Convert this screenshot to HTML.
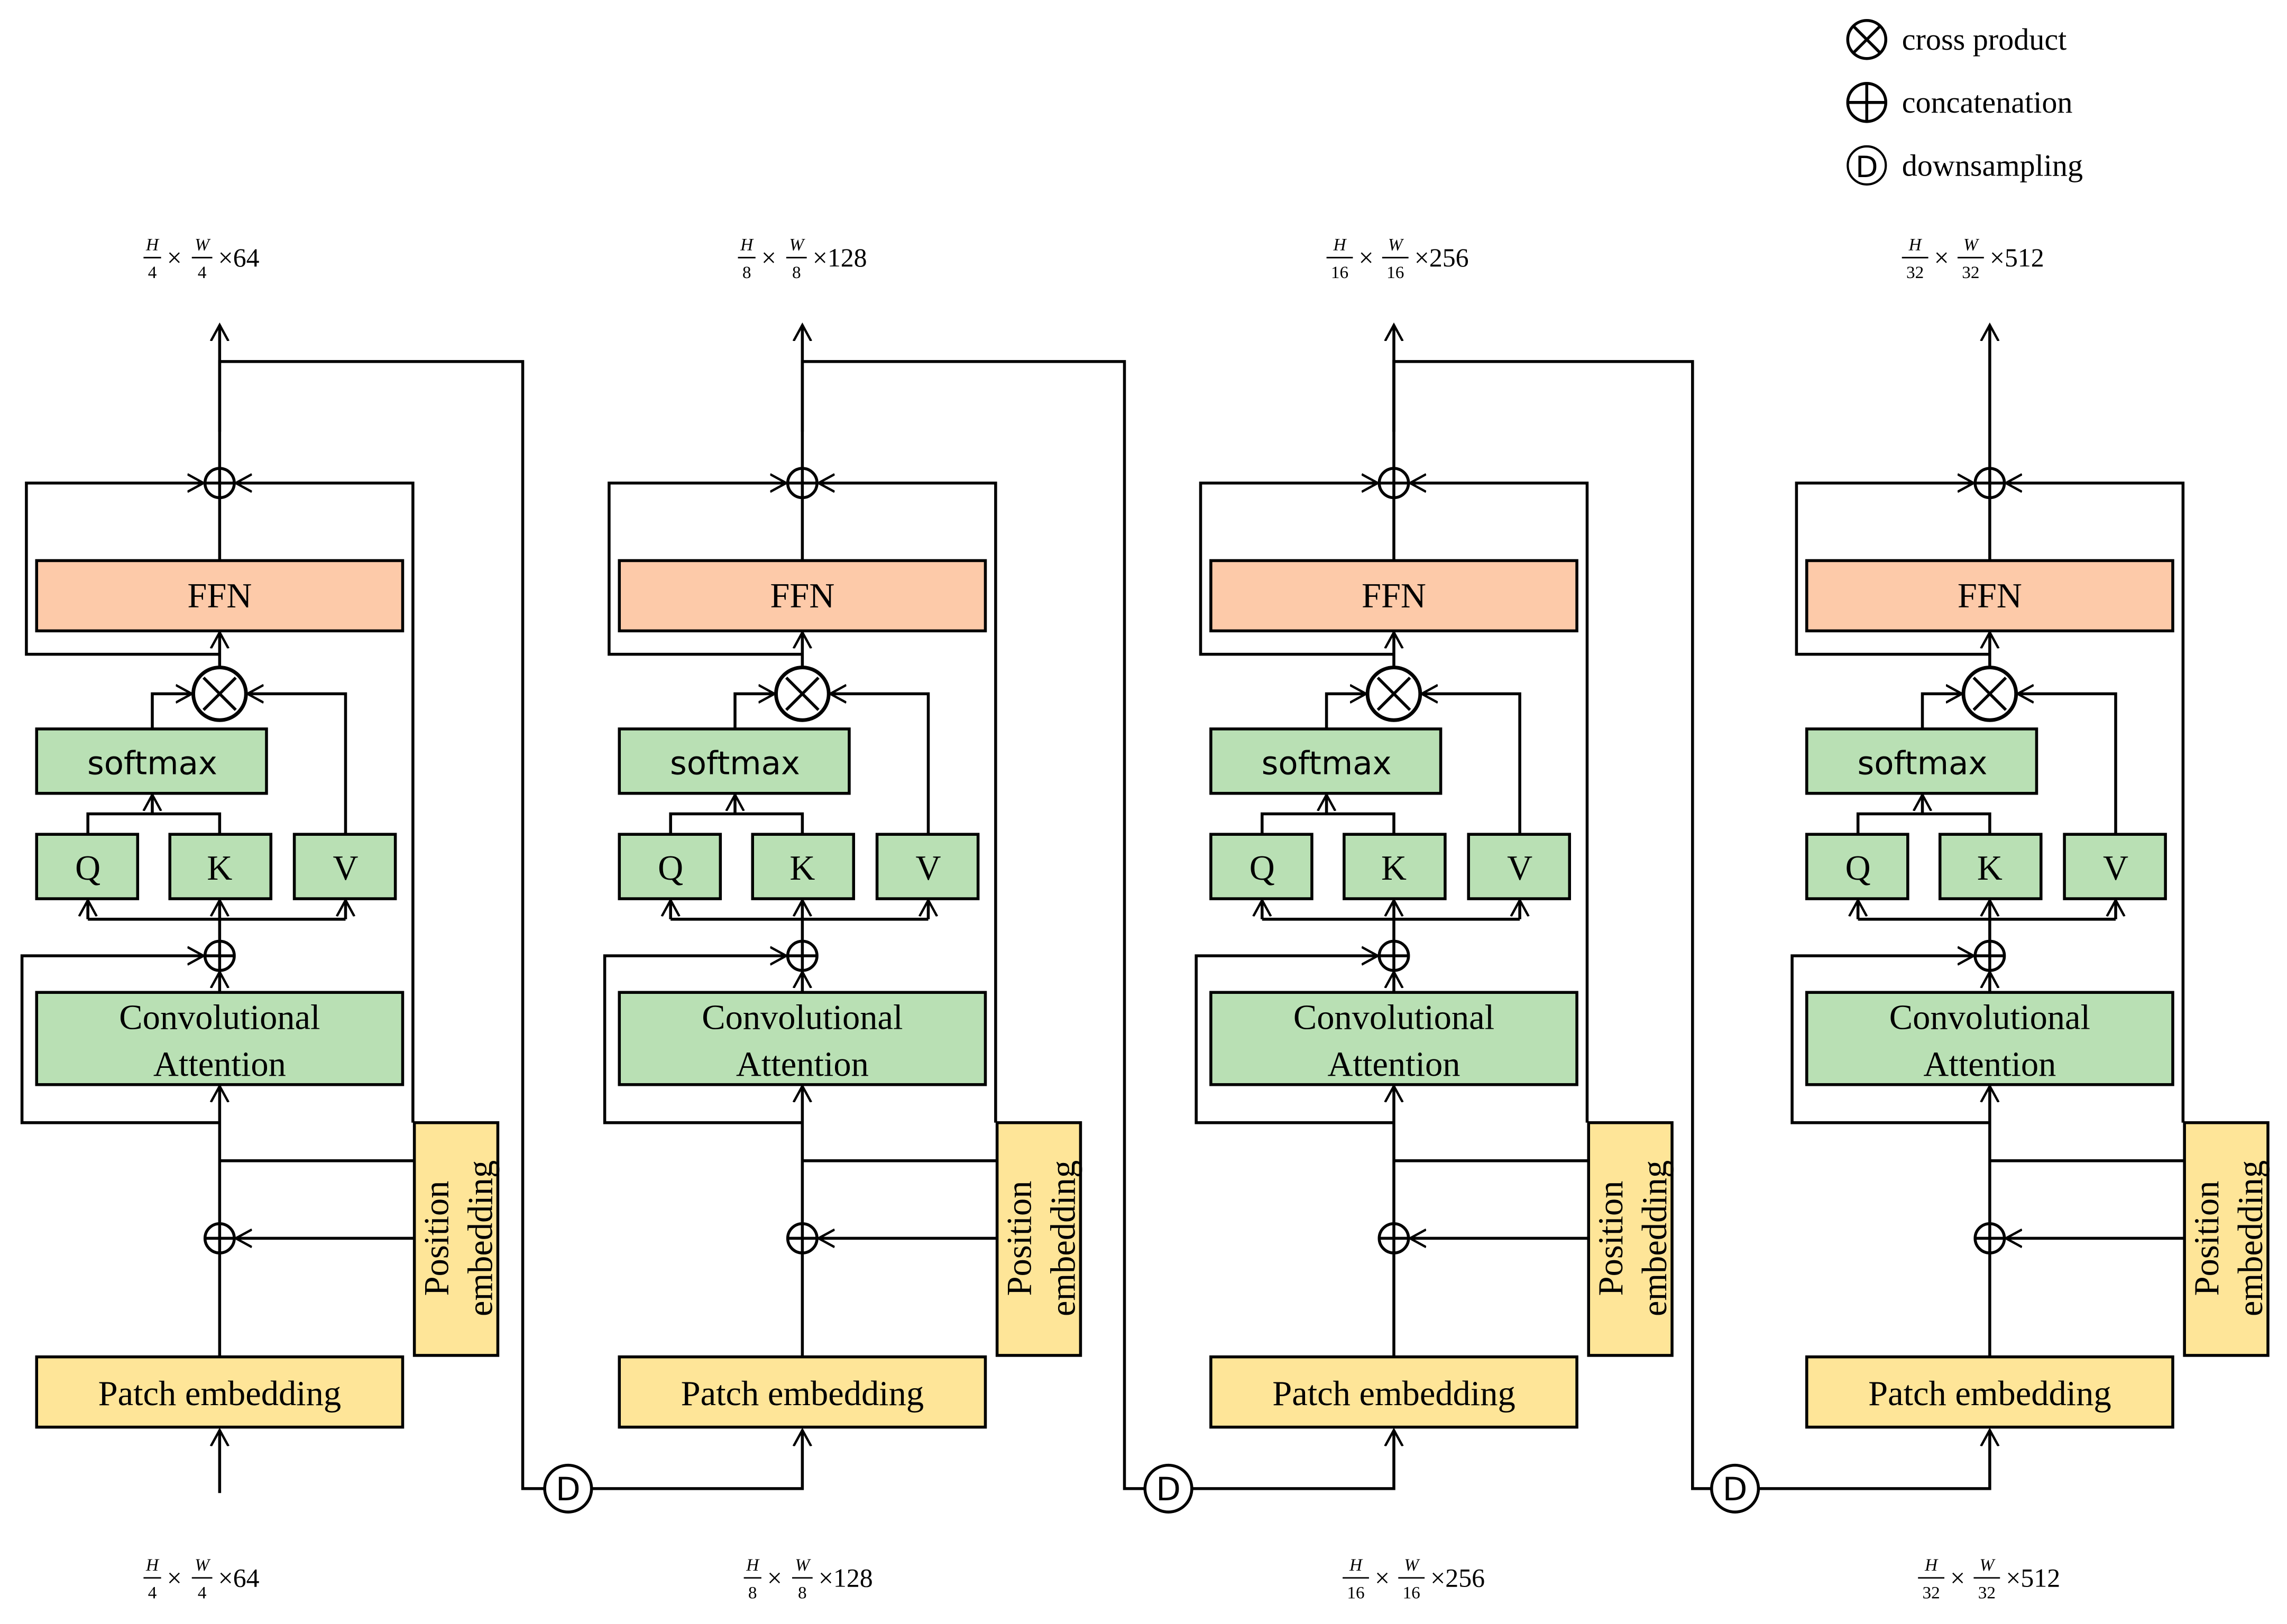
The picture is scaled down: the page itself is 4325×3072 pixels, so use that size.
<!DOCTYPE html>
<html><head><meta charset="utf-8"><style>html,body{margin:0;padding:0;background:#fff}svg{display:block}</style></head>
<body>
<svg width="4325" height="3072" viewBox="0 0 1562 1109.5" xmlns="http://www.w3.org/2000/svg" font-family="Liberation Serif, serif">
<defs>
<marker id="a" markerUnits="userSpaceOnUse" markerWidth="16" markerHeight="16" refX="11" refY="6" orient="auto" viewBox="0 0 16 12">
<path d="M0,0 L11,6 L0,12" fill="none" stroke="#000" stroke-width="1.6"/>
</marker>
<g id="blk" fill="none" stroke="#000" stroke-width="2">
<rect x="25" y="383" width="250" height="48" fill="#fdcaa9"/>
<rect x="25" y="498" width="157" height="44" fill="#b9e0b4"/>
<rect x="25" y="570" width="69" height="44" fill="#b9e0b4"/>
<rect x="116" y="570" width="69" height="44" fill="#b9e0b4"/>
<rect x="201" y="570" width="69" height="44" fill="#b9e0b4"/>
<rect x="25" y="678" width="250" height="63" fill="#b9e0b4"/>
<rect x="25" y="927" width="250" height="48" fill="#fee598"/>
<rect x="283" y="767" width="57" height="159" fill="#fee598"/>
<line x1="150" y1="320" x2="150" y2="222" marker-end="url(#a)"/>
<circle cx="150" cy="330" r="10" fill="#fff"/><line x1="140" y1="330" x2="160" y2="330"/><line x1="150" y1="320" x2="150" y2="340"/>
<line x1="150" y1="383" x2="150" y2="340"/>
<path d="M150,447 H18 V330 H139" marker-end="url(#a)"/>
<path d="M282,767 V330 H161" marker-end="url(#a)"/>
<circle cx="150" cy="474" r="18" fill="#fff" stroke-width="2.5"/><line x1="139" y1="463" x2="161" y2="485"/><line x1="161" y1="463" x2="139" y2="485"/>
<line x1="150" y1="456" x2="150" y2="432" marker-end="url(#a)"/>
<path d="M104,498 V474 H131" marker-end="url(#a)"/>
<path d="M236,570 V474 H169" marker-end="url(#a)"/>
<path d="M60,570 V556 H150 V570"/>
<line x1="104" y1="556" x2="104" y2="543" marker-end="url(#a)"/>
<line x1="60" y1="628" x2="236" y2="628"/>
<line x1="60" y1="628" x2="60" y2="615" marker-end="url(#a)"/>
<line x1="150" y1="643" x2="150" y2="615" marker-end="url(#a)"/>
<line x1="236" y1="628" x2="236" y2="615" marker-end="url(#a)"/>
<circle cx="150" cy="653" r="10" fill="#fff"/><line x1="140" y1="653" x2="160" y2="653"/><line x1="150" y1="643" x2="150" y2="663"/>
<line x1="150" y1="678" x2="150" y2="664" marker-end="url(#a)"/>
<path d="M150,767 H15 V653 H139" marker-end="url(#a)"/>
<line x1="150" y1="927" x2="150" y2="742" marker-end="url(#a)"/>
<line x1="150" y1="793" x2="283" y2="793"/>
<circle cx="150" cy="846" r="10"/><line x1="140" y1="846" x2="160" y2="846"/>
<line x1="283" y1="846" x2="161" y2="846" marker-end="url(#a)"/>
<g stroke="none" fill="#000" text-anchor="middle">
<text x="150" y="415" font-size="24">FFN</text>
<text x="104" y="529" font-size="22" font-family="DejaVu Sans, sans-serif">softmax</text>
<text x="60" y="601" font-size="24">Q</text>
<text x="150" y="601" font-size="24">K</text>
<text x="236" y="601" font-size="24">V</text>
<text x="150" y="703" font-size="24">Convolutional</text>
<text x="150" y="735" font-size="24">Attention</text>
<text x="150" y="960" font-size="24">Patch embedding</text>
<text transform="translate(306,846) rotate(-90)" font-size="24">Position</text>
<text transform="translate(336,846) rotate(-90)" font-size="24">embedding</text>
</g>
</g>
</defs>

<use href="#blk"/>
<use href="#blk" transform="translate(398,0)"/>
<use href="#blk" transform="translate(802,0)"/>
<use href="#blk" transform="translate(1209,0)"/>

<g fill="none" stroke="#000" stroke-width="2">
<line x1="150" y1="1020" x2="150" y2="977" marker-end="url(#a)"/>
<path d="M150,295 V247 H357 V1017 H372"/>
<path d="M404,1017 H548 V977" marker-end="url(#a)"/>
<circle cx="388" cy="1017" r="16" fill="#fff"/>
<path d="M548,295 V247 H768 V1017 H782"/>
<path d="M814,1017 H952 V977" marker-end="url(#a)"/>
<circle cx="798" cy="1017" r="16" fill="#fff"/>
<path d="M952,295 V247 H1156 V1017 H1169"/>
<path d="M1201,1017 H1359 V977" marker-end="url(#a)"/>
<circle cx="1185" cy="1017" r="16" fill="#fff"/>
</g>
<g font-family="DejaVu Sans, sans-serif" font-size="22" text-anchor="middle">
<text x="388" y="1025">D</text><text x="798" y="1025">D</text><text x="1185" y="1025">D</text>
</g>

<!-- legend -->
<g fill="none" stroke="#000" stroke-width="2">
<circle cx="1275" cy="27" r="13"/><line x1="1266" y1="18" x2="1284" y2="36"/><line x1="1284" y1="18" x2="1266" y2="36"/>
<circle cx="1275" cy="70" r="13"/><line x1="1262" y1="70" x2="1288" y2="70"/><line x1="1275" y1="57" x2="1275" y2="83"/>
<circle cx="1275" cy="113" r="13" stroke-width="1.5"/>
</g>
<text x="1275" y="121" font-family="DejaVu Sans, sans-serif" font-size="20" text-anchor="middle">D</text>
<g font-size="21">
<text x="1299" y="34">cross product</text>
<text x="1299" y="77">concatenation</text>
<text x="1299" y="120">downsampling</text>
</g>

<!-- dimension labels -->
<g font-size="18" id="dims">
<g transform="translate(98,176)"><text x="6" y="-5" font-size="12" font-style="italic" text-anchor="middle">H</text><line x1="0" y1="0" x2="12" y2="0" stroke="#000"/><text x="6" y="14" font-size="12" text-anchor="middle">4</text><text x="16" y="6">×</text><text x="40" y="-5" font-size="12" font-style="italic" text-anchor="middle">W</text><line x1="33" y1="0" x2="47" y2="0" stroke="#000"/><text x="40" y="14" font-size="12" text-anchor="middle">4</text><text x="51" y="6">×64</text></g>
<g transform="translate(504,176)"><text x="6" y="-5" font-size="12" font-style="italic" text-anchor="middle">H</text><line x1="0" y1="0" x2="12" y2="0" stroke="#000"/><text x="6" y="14" font-size="12" text-anchor="middle">8</text><text x="16" y="6">×</text><text x="40" y="-5" font-size="12" font-style="italic" text-anchor="middle">W</text><line x1="33" y1="0" x2="47" y2="0" stroke="#000"/><text x="40" y="14" font-size="12" text-anchor="middle">8</text><text x="51" y="6">×128</text></g>
<g transform="translate(906,176)"><text x="9" y="-5" font-size="12" font-style="italic" text-anchor="middle">H</text><line x1="0" y1="0" x2="18" y2="0" stroke="#000"/><text x="9" y="14" font-size="12" text-anchor="middle">16</text><text x="22" y="6">×</text><text x="47" y="-5" font-size="12" font-style="italic" text-anchor="middle">W</text><line x1="38" y1="0" x2="56" y2="0" stroke="#000"/><text x="47" y="14" font-size="12" text-anchor="middle">16</text><text x="60" y="6">×256</text></g>
<g transform="translate(1299,176)"><text x="9" y="-5" font-size="12" font-style="italic" text-anchor="middle">H</text><line x1="0" y1="0" x2="18" y2="0" stroke="#000"/><text x="9" y="14" font-size="12" text-anchor="middle">32</text><text x="22" y="6">×</text><text x="47" y="-5" font-size="12" font-style="italic" text-anchor="middle">W</text><line x1="38" y1="0" x2="56" y2="0" stroke="#000"/><text x="47" y="14" font-size="12" text-anchor="middle">32</text><text x="60" y="6">×512</text></g>

<g transform="translate(98,1078)"><text x="6" y="-5" font-size="12" font-style="italic" text-anchor="middle">H</text><line x1="0" y1="0" x2="12" y2="0" stroke="#000"/><text x="6" y="14" font-size="12" text-anchor="middle">4</text><text x="16" y="6">×</text><text x="40" y="-5" font-size="12" font-style="italic" text-anchor="middle">W</text><line x1="33" y1="0" x2="47" y2="0" stroke="#000"/><text x="40" y="14" font-size="12" text-anchor="middle">4</text><text x="51" y="6">×64</text></g>
<g transform="translate(508,1078)"><text x="6" y="-5" font-size="12" font-style="italic" text-anchor="middle">H</text><line x1="0" y1="0" x2="12" y2="0" stroke="#000"/><text x="6" y="14" font-size="12" text-anchor="middle">8</text><text x="16" y="6">×</text><text x="40" y="-5" font-size="12" font-style="italic" text-anchor="middle">W</text><line x1="33" y1="0" x2="47" y2="0" stroke="#000"/><text x="40" y="14" font-size="12" text-anchor="middle">8</text><text x="51" y="6">×128</text></g>
<g transform="translate(917,1078)"><text x="9" y="-5" font-size="12" font-style="italic" text-anchor="middle">H</text><line x1="0" y1="0" x2="18" y2="0" stroke="#000"/><text x="9" y="14" font-size="12" text-anchor="middle">16</text><text x="22" y="6">×</text><text x="47" y="-5" font-size="12" font-style="italic" text-anchor="middle">W</text><line x1="38" y1="0" x2="56" y2="0" stroke="#000"/><text x="47" y="14" font-size="12" text-anchor="middle">16</text><text x="60" y="6">×256</text></g>
<g transform="translate(1310,1078)"><text x="9" y="-5" font-size="12" font-style="italic" text-anchor="middle">H</text><line x1="0" y1="0" x2="18" y2="0" stroke="#000"/><text x="9" y="14" font-size="12" text-anchor="middle">32</text><text x="22" y="6">×</text><text x="47" y="-5" font-size="12" font-style="italic" text-anchor="middle">W</text><line x1="38" y1="0" x2="56" y2="0" stroke="#000"/><text x="47" y="14" font-size="12" text-anchor="middle">32</text><text x="60" y="6">×512</text></g>
</g>
</svg>
</body></html>
